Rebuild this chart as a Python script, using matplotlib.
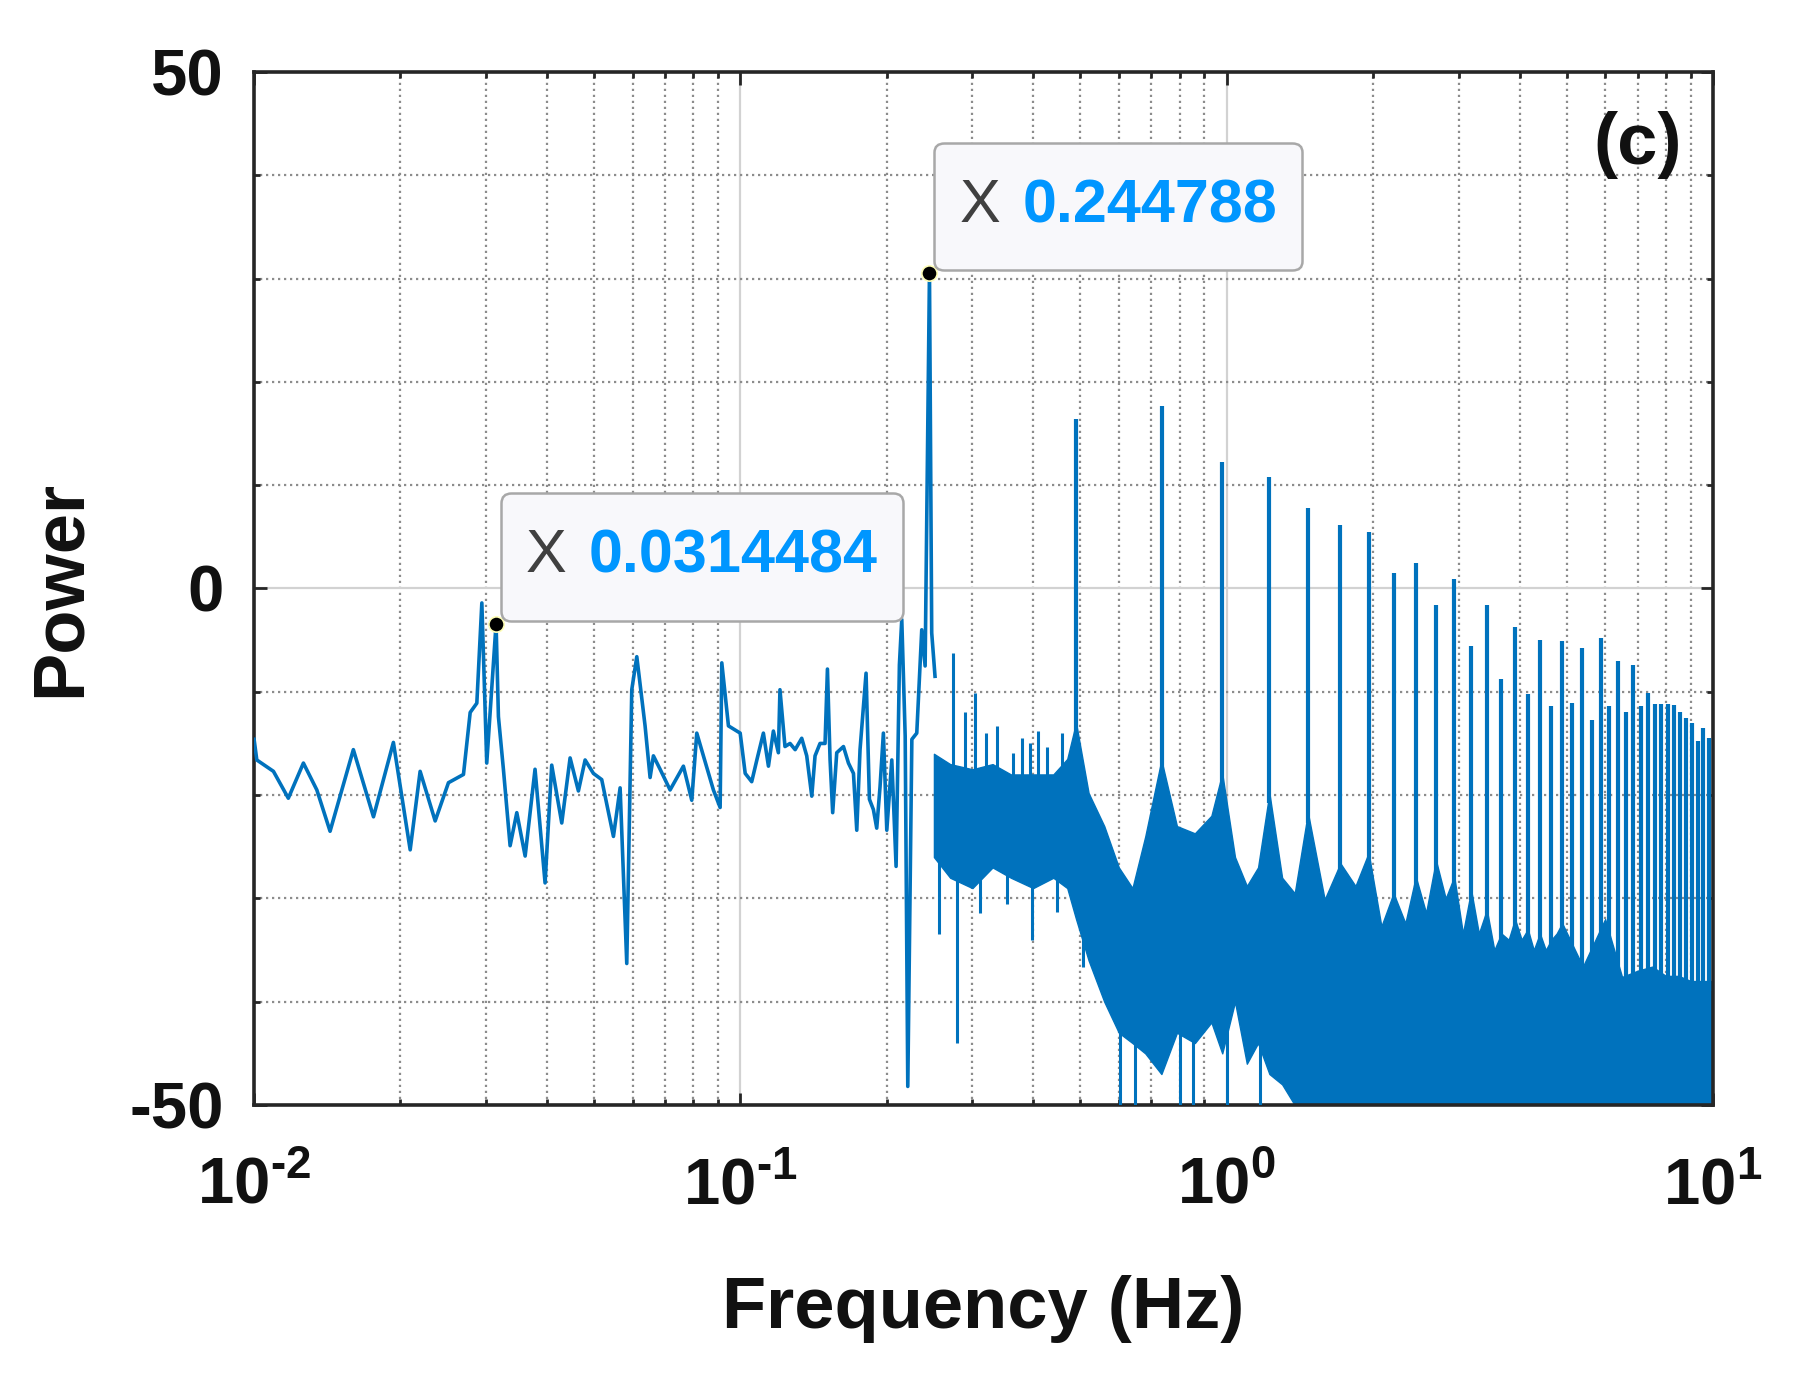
import numpy as np
import matplotlib
matplotlib.use('Agg')
import matplotlib.pyplot as plt
from matplotlib.ticker import FixedLocator, FixedFormatter, MultipleLocator, LogLocator, NullFormatter
from matplotlib.offsetbox import AnnotationBbox, HPacker, TextArea, DrawingArea

plt.rcParams['font.family'] = ['Liberation Sans', 'DejaVu Sans']
plt.rcParams['font.weight'] = 'bold'
plt.rcParams['mathtext.fontset'] = 'custom'
plt.rcParams['mathtext.rm'] = 'Liberation Sans:bold'
plt.rcParams['mathtext.bf'] = 'Liberation Sans:bold'
plt.rcParams['axes.unicode_minus'] = False

# low frequency trace, Hz / power
lf_freq = [0.0100, 0.01013, 0.01096, 0.01176, 0.01263, 0.01346, 0.01433, 0.0160,
           0.01760, 0.01934, 0.02094, 0.02195, 0.02357, 0.02510, 0.02695, 0.02782,
           0.02871, 0.02940, 0.03009, 0.0314484, 0.03180, 0.03256, 0.03361, 0.03469,
           0.03609, 0.03782, 0.03966, 0.04093, 0.04292, 0.04465, 0.04644, 0.04794,
           0.04986, 0.05186, 0.05482, 0.05658, 0.05839, 0.05979, 0.06123, 0.06368,
           0.06521, 0.06624, 0.06838, 0.07168, 0.07635, 0.07943, 0.08134, 0.08393,
           0.08800, 0.09085, 0.09157, 0.09450, 0.0999,
           0.1023, 0.1055, 0.1081, 0.1115, 0.1142, 0.1169, 0.1197, 0.1206, 0.1235,
           0.1265, 0.1296, 0.1337, 0.1369, 0.1402, 0.1424, 0.1458, 0.1493, 0.1510,
           0.1529, 0.1548, 0.1578, 0.1629, 0.1668, 0.1708, 0.1735, 0.1762, 0.1813,
           0.1842, 0.1877, 0.1907, 0.1937, 0.1968, 0.2000, 0.2048, 0.2090, 0.2123,
           0.2147, 0.2182, 0.2209, 0.2252, 0.2305, 0.2360, 0.2398, 0.244788, 0.2474,
           0.2513]
lf_power = [-14.6, -16.6, -17.7, -20.3, -16.9, -19.5, -23.5, -15.6,
            -22.1, -14.9, -25.3, -17.7, -22.5, -18.8, -18.0, -12.0,
            -11.1, -1.4, -16.9, -3.4, -12.4, -17.5, -24.9, -21.7,
            -25.9, -17.5, -28.5, -17.1, -22.7, -16.4, -19.6, -16.6,
            -17.9, -18.5, -24.0, -19.3, -36.3, -9.8, -6.6, -13.3,
            -18.3, -16.2, -17.5, -19.5, -17.2, -20.5, -14.0, -16.2,
            -19.5, -21.2, -7.2, -13.3, -14.0,
            -17.9, -18.7, -16.6, -14.0, -17.2, -13.8, -15.9, -9.8, -15.3,
            -15.0, -15.6, -14.5, -16.2, -20.1, -16.2, -15.0, -15.0, -7.8,
            -16.6, -21.7, -15.9, -15.3, -16.9, -17.9, -23.4, -15.6, -8.2,
            -20.4, -21.4, -23.2, -19.2, -14.0, -23.4, -16.6, -26.9, -7.4,
            -3.0, -14.3, -48.2, -14.6, -14.0, -4.0, -7.5, 30.5, -4.3,
            -8.5]

# dense part of the spectrum: upper / lower edge of the filled band
band_freq = [0.250, 0.270, 0.300, 0.330, 0.360, 0.400, 0.440, 0.470, 0.490, 0.520,
             0.560, 0.600, 0.640, 0.680, 0.734, 0.790, 0.860, 0.930, 0.979, 1.040,
             1.100, 1.160, 1.224, 1.300, 1.380, 1.469, 1.590, 1.713, 1.840, 1.958,
             2.080, 2.203, 2.330, 2.448, 2.570, 2.693, 2.820, 2.937, 3.060, 3.182,
             3.300, 3.427, 3.550, 3.672, 3.800, 3.916, 4.040, 4.161, 4.280, 4.406,
             4.530, 4.651, 4.770, 4.896, 5.400, 6.000, 6.500, 7.000, 7.500, 8.000,
             8.500, 9.000, 9.500, 10.00]
band_top = [-16, -17, -17.5, -17, -18, -18, -18, -16.5, -13, -19.8,
            -23, -27, -29, -24, -16.6, -23, -23.7, -22, -17.9, -26,
            -28.8, -27, -19.8, -28, -29.5, -21.7, -30.1, -26.6, -28.8, -25.6,
            -32.7, -29.5, -32.4, -27.9, -31.4, -26.3, -30, -27.9, -33.4, -29.2,
            -33.4, -31.1, -35, -33.4, -34, -32, -34, -33, -35, -33.4,
            -35, -34, -33.4, -32.4, -36.6, -32, -37.6, -37, -36.6, -37.5,
            -37.5, -38, -38, -38]
band_bottom = [-26, -28, -29, -27, -28, -29, -28, -29, -32, -36,
               -40, -43, -44, -45, -47, -43, -44, -42, -45, -40,
               -46, -44, -47, -48] + [-50.0] * 40

# harmonic peaks of the 0.244788 Hz line
harm_freq = [0.4896, 0.7344, 0.9792, 1.224, 1.469, 1.713, 1.958, 2.203, 2.448, 2.693,
             2.937, 3.182, 3.427, 3.672, 3.916, 4.161, 4.406, 4.651, 4.896, 5.140,
             5.385, 5.630, 5.875, 6.120, 6.365, 6.610, 6.854, 7.099, 7.344, 7.589,
             7.834, 8.079, 8.323, 8.568, 8.813, 9.058, 9.303, 9.547, 9.792]
harm_power = [16.4, 17.7, 12.2, 10.8, 7.8, 6.1, 5.5, 1.5, 2.5, -1.6,
              0.9, -5.6, -1.6, -8.8, -3.7, -10.2, -5.0, -11.4, -5.1, -11.1,
              -5.8, -12.7, -4.8, -11.4, -7.0, -12.0, -7.4, -11.4, -10.1, -11.2,
              -11.2, -11.2, -11.3, -12.0, -12.5, -13.0, -14.8, -13.5, -14.5]

# isolated spikes above / below the band
up_freq = [0.2742, 0.2890, 0.3039, 0.3200, 0.3366, 0.3641, 0.3800, 0.3941, 0.4100,
           0.4265, 0.4578]
up_power = [-6.2, -12.0, -10.1, -14.0, -13.3, -15.9, -14.5, -15.0, -13.8,
            -15.3, -14.0]
dip_freq = [0.2566, 0.2786, 0.3112, 0.3530, 0.3972, 0.4471, 0.5073, 0.5318,
            0.604, 0.648, 0.802, 0.854, 1.000, 1.171]
dip_power = [-33.4, -44.0, -31.4, -30.5, -34.0, -31.3, -36.6, -36.3,
             -50, -50, -50, -50, -50, -50]

# data tips
tip_freq = [0.0314484, 0.244788]
tip_power = [-3.4, 30.5]
tip_text = ['0.0314484', '0.244788']

LINE = '#0072BD'
AXC = '#262626'

fig = plt.figure(figsize=(18.11, 13.97), dpi=100)
ax = fig.add_axes([0.1403, 0.2090, 0.8056, 0.7395])
ax.set_xscale('log')

lb = np.log10(band_freq)
ax.fill_between(band_freq, band_bottom, band_top, color=LINE, lw=1.0, zorder=2)
ax.plot(lf_freq, lf_power, color=LINE, lw=2.6, zorder=3)

base = np.interp(np.log10(harm_freq), lb, band_top) - 1
ax.vlines(harm_freq, base, harm_power, color=LINE, lw=3.0, zorder=3)
base = np.interp(np.log10(up_freq), lb, band_top) - 1
ax.vlines(up_freq, base, up_power, color=LINE, lw=2.2, zorder=3)
top = np.interp(np.log10(dip_freq), lb, band_bottom) + 1
ax.vlines(dip_freq, dip_power, top, color=LINE, lw=2.2, zorder=3)

ax.plot(tip_freq, tip_power, 'o', ms=11, mfc='black', mec='#FFFFB8', mew=1.2, zorder=6)
for f, p, s in zip(tip_freq, tip_power, tip_text):
    inner = HPacker(children=[
        TextArea('X', textprops=dict(color='#404040', fontsize=44, fontweight='normal')),
        TextArea(s, textprops=dict(color='#0096FF', fontsize=44, fontweight='bold'))],
        align='baseline', pad=0, sep=16)
    box = HPacker(children=[DrawingArea(0, 56), inner], align='center', pad=18, sep=0)
    ab = AnnotationBbox(box, (f, p), xybox=(5, 3), boxcoords='offset pixels',
                        box_alignment=(0, 0), pad=0, frameon=True,
                        bboxprops=dict(boxstyle='round,pad=0,rounding_size=0.7',
                                       fc='#F8F8FB', ec='#A8A8A8', lw=1.8), zorder=7)
    ax.add_artist(ab)

ax.set_xlim(1e-2, 10)
ax.set_ylim(-50, 50)
ax.xaxis.set_major_locator(FixedLocator([1e-2, 1e-1, 1, 10]))
ax.xaxis.set_major_formatter(FixedFormatter([r'$10^{\text{-}2}$', r'$10^{\text{-}1}$',
                                             r'$10^{0}$', r'$10^{1}$']))
ax.xaxis.set_minor_locator(LogLocator(base=10, subs=np.arange(2, 10)))
ax.xaxis.set_minor_formatter(NullFormatter())
ax.yaxis.set_major_locator(FixedLocator([-50, 0, 50]))
ax.yaxis.set_major_formatter(FixedFormatter(['-50', '0', '50']))
ax.yaxis.set_minor_locator(MultipleLocator(10))

ax.set_axisbelow(True)
ax.grid(which='major', color='#D2D2D2', lw=1.6, ls='-')
ax.grid(which='minor', color='#8C8C8C', lw=1.6, ls=(0, (1, 1.7)))

ax.tick_params(which='both', direction='in', top=True, right=True, color=AXC, width=2)
ax.tick_params(which='major', length=9, labelsize=47, labelcolor='#111111')
ax.tick_params(axis='y', which='major', pad=22)
ax.tick_params(axis='x', which='major', pad=36)
ax.tick_params(which='minor', length=4.5)
for sp in ax.spines.values():
    sp.set_linewidth(2.6)
    sp.set_color(AXC)

ax.set_xlabel('Frequency (Hz)', fontsize=52, fontweight='bold', color='#111111')
ax.set_ylabel('Power', fontsize=52, fontweight='bold', color='#111111')
ax.xaxis.set_label_coords(0.5, -0.165)
ax.yaxis.set_label_coords(-0.109, 0.5)

ax.text(0.948, 0.929, '(c)', transform=ax.transAxes, ha='center', va='center',
        fontsize=52, fontweight='bold', color='#111111')

fig.savefig('out.png', dpi=100)
